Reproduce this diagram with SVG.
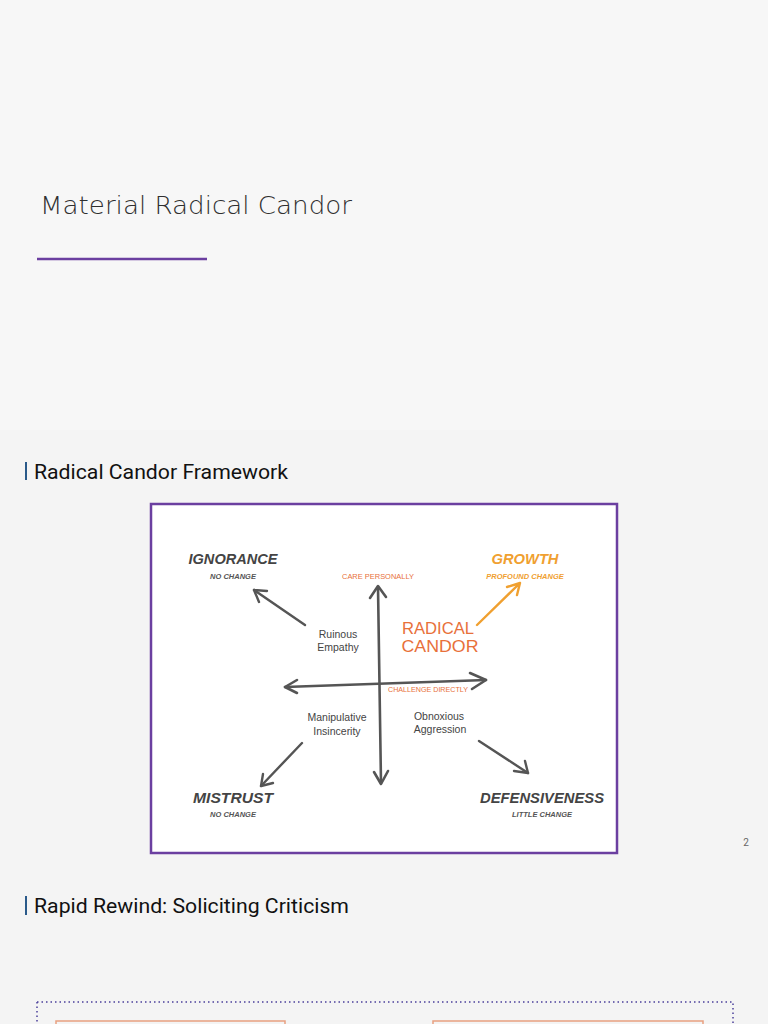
<svg xmlns="http://www.w3.org/2000/svg" width="768" height="1024" viewBox="0 0 768 1024">
<defs>
<style>
.hd{font-family:"Liberation Sans",Arial,sans-serif;font-style:italic;font-weight:bold;fill:#444;text-anchor:middle;font-size:15px}
.sub{font-family:"Liberation Sans",Arial,sans-serif;font-style:italic;font-weight:bold;fill:#555;text-anchor:middle;font-size:7.5px}
.hw{font-family:"Liberation Sans",Arial,sans-serif;fill:#444;text-anchor:middle;font-size:10.5px}
.lab{font-family:"Liberation Sans",Arial,sans-serif;text-anchor:middle;font-size:7px;fill:#e8703a}
.big{font-family:"Liberation Sans",Arial,sans-serif;text-anchor:middle;font-size:16px;fill:#e8703a}
.gr{fill:#f0a030}
.ax{stroke:#555;stroke-width:2.6;fill:none;stroke-linecap:round;stroke-linejoin:round}
.ar{stroke:#555;stroke-width:2.4;fill:none;stroke-linecap:round;stroke-linejoin:round}
.sec{font-family:Roboto,"Liberation Sans",sans-serif;font-size:21px;fill:#111}
</style>
</defs>
<rect width="768" height="1024" fill="#f4f4f4"/>
<rect y="0" width="768" height="430" fill="#f7f7f7"/>

<g id="title">
<text x="40" y="214" font-family="DejaVu Sans, sans-serif" font-weight="200" font-size="25" fill="#2f2f2f" textLength="312" lengthAdjust="spacingAndGlyphs">Material Radical Candor</text>
<line x1="37" y1="259" x2="207" y2="259" stroke="#6b3fa0" stroke-width="2.5"/>
</g>

<g id="section1">
<rect x="25" y="462" width="2" height="18" fill="#2a5a8a"/>
<text class="sec" x="34" y="479" textLength="254" lengthAdjust="spacingAndGlyphs">Radical Candor Framework</text>
</g>

<g id="frame">
<rect x="151" y="504" width="466" height="349" fill="#ffffff" stroke="#6b3fa0" stroke-width="2.5"/>
</g>

<g id="connectors">
<path class="ax" d="M381 783 L378 587"/>
<path class="ax" d="M370 598 L378 586 L386 597"/>
<path class="ax" d="M374 772 L381 784 L388 771"/>
<path class="ax" d="M285 687 L486 680"/>
<path class="ax" d="M297 680 L285 687 L297 693"/>
<path class="ax" d="M470 673 L486 680 L472 689"/>
<path class="ar" d="M305 625 L254 590"/>
<path class="ar" d="M254 590 L267 591 M254 590 L259 602"/>
<path class="ar" d="M302 743 L261 786"/>
<path class="ar" d="M261 786 L263 774 M261 786 L273 783"/>
<path class="ar" d="M479 741 L528 773"/>
<path class="ar" d="M528 773 L514 771 M528 773 L525 761"/>
<path d="M477 625 L520 583 M520 583 L507 587 M520 583 L517 595" stroke="#f0a030" stroke-width="2.4" fill="none" stroke-linecap="round"/>
</g>

<g id="axis-labels">
<text class="lab" x="378" y="579" textLength="72" lengthAdjust="spacingAndGlyphs">CARE PERSONALLY</text>
<text class="lab" x="428" y="692" textLength="80" lengthAdjust="spacingAndGlyphs">CHALLENGE DIRECTLY</text>
</g>

<g id="ignorance">
<text class="hd" x="233" y="564" textLength="89" lengthAdjust="spacingAndGlyphs">IGNORANCE</text>
<text class="sub" x="233" y="579">NO CHANGE</text>
</g>
<g id="growth">
<text class="hd gr" x="525" y="564" textLength="67" lengthAdjust="spacingAndGlyphs">GROWTH</text>
<text class="sub gr" x="525" y="579">PROFOUND CHANGE</text>
</g>
<g id="mistrust">
<text class="hd" x="233" y="803" textLength="80" lengthAdjust="spacingAndGlyphs">MISTRUST</text>
<text class="sub" x="233" y="817">NO CHANGE</text>
</g>
<g id="defensiveness">
<text class="hd" x="542" y="803" textLength="124" lengthAdjust="spacingAndGlyphs">DEFENSIVENESS</text>
<text class="sub" x="542" y="817">LITTLE CHANGE</text>
</g>
<g id="ruinous-empathy">
<text class="hw" x="338" y="638">Ruinous</text>
<text class="hw" x="338" y="651">Empathy</text>
</g>
<g id="radical-candor">
<text class="big" x="438" y="634" textLength="72" lengthAdjust="spacingAndGlyphs">RADICAL</text>
<text class="big" x="440" y="652" textLength="77" lengthAdjust="spacingAndGlyphs">CANDOR</text>
</g>
<g id="manipulative-insincerity">
<text class="hw" x="337" y="721">Manipulative</text>
<text class="hw" x="337" y="735">Insincerity</text>
</g>
<g id="obnoxious-aggression">
<text class="hw" x="439" y="720">Obnoxious</text>
<text class="hw" x="440" y="733">Aggression</text>
</g>

<text x="746" y="846" font-family="Roboto, sans-serif" font-size="10" fill="#666" text-anchor="middle">2</text>

<g id="section2">
<rect x="25" y="896" width="2" height="19" fill="#2a5a8a"/>
<text class="sec" x="34" y="913" textLength="315" lengthAdjust="spacingAndGlyphs">Rapid Rewind: Soliciting Criticism</text>
</g>

<g id="bottom-box">
<path d="M37 1002 L733 1002 L733 1024" fill="none" stroke="#4a3f9a" stroke-width="1.5" stroke-dasharray="1.5 3"/>
<path d="M37 1002 L37 1024" fill="none" stroke="#4a3f9a" stroke-width="1.5" stroke-dasharray="1.5 3"/>
<path d="M56 1026 L56 1021 L285 1021 L285 1026" fill="none" stroke="#e8a080" stroke-width="1.5"/>
<path d="M433 1026 L433 1021 L703 1021 L703 1026" fill="none" stroke="#e8a080" stroke-width="1.5"/>
</g>
</svg>
